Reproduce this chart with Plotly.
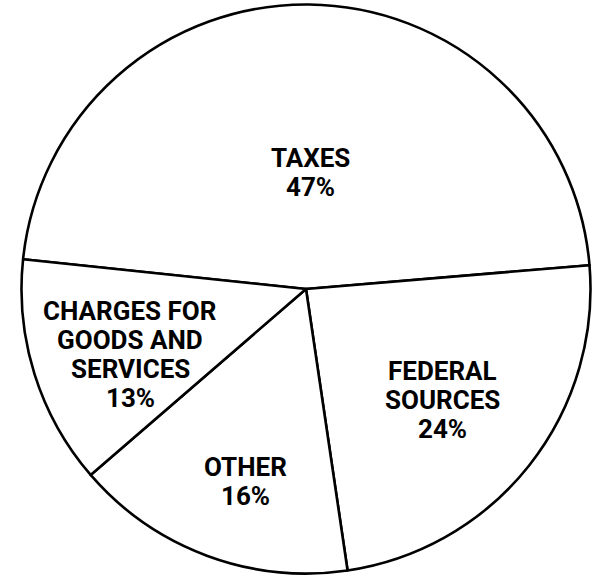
import math
import plotly.graph_objects as go

# Data
categories = ["TAXES", "FEDERAL<br>SOURCES", "OTHER", "CHARGES FOR<br>GOODS AND<br>SERVICES"]
values = [47, 24, 16, 13]

# Layout / style
W, H = 601, 575
CX, CY, R = 306, 289, 284.5          # pie centre and radius in pixels
ROTATION = 276.0                     # start angle of first slice (deg, clockwise from 12 o'clock)
label_radius = [0.41, 0.62, 0.71, 0.66]
label_angle_offset = [1.8, 0.8, -2.9, -3.0]
LINE_PITCH = 29
FONT = dict(family="Roboto, 'Liberation Sans', Arial, sans-serif", size=26, color="black", weight="bold")

fig = go.Figure()
fig.add_trace(go.Pie(
    labels=categories,
    values=values,
    sort=False,
    direction="clockwise",
    rotation=ROTATION,
    textinfo="none",
    hoverinfo="label+percent",
    marker=dict(colors=["white"] * len(values), line=dict(color="black", width=2.6)),
    domain=dict(x=[(CX - R) / W, (CX + R) / W], y=[1 - (CY + R) / H, 1 - (CY - R) / H]),
    showlegend=False,
))

# Labels placed near each slice's bisector, derived from the data
total = sum(values)
cum = 0.0
annotations = []
for cat, val, frac, off in zip(categories, values, label_radius, label_angle_offset):
    mid = ROTATION + (cum + val / 2) / total * 360.0 + off
    cum += val
    a = math.radians(mid)
    px = CX + frac * R * math.sin(a)
    py = CY - frac * R * math.cos(a)
    lines = cat.split("<br>") + [f"{val}%"]
    n = len(lines)
    for i, line in enumerate(lines):
        ly = py + (i - (n - 1) / 2) * LINE_PITCH
        annotations.append(dict(
            x=px / W, y=1 - ly / H, xref="paper", yref="paper",
            text=line, showarrow=False, font=FONT,
            xanchor="center", yanchor="middle", align="center",
        ))

fig.update_layout(
    width=W, height=H,
    margin=dict(l=0, r=0, t=0, b=0),
    paper_bgcolor="white", plot_bgcolor="white",
    annotations=annotations,
)

fig.write_html("out.html")
